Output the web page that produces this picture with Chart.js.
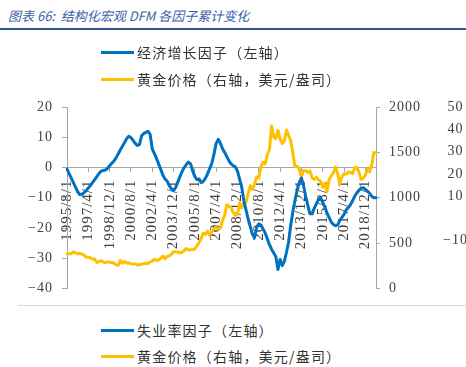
<!DOCTYPE html>
<html>
<head>
<meta charset="utf-8">
<script src="https://cdn.jsdelivr.net/npm/chart.js@4.4.1/dist/chart.umd.min.js"></script>
<style>
  html, body { margin: 0; padding: 0; width: 466px; height: 367px; overflow: hidden; background: #fff; }
  #title { position: absolute; left: 8px; top: 6px; font: italic 13px "Noto Sans CJK SC"; color: #3a62a6; white-space: nowrap; }
  #rule { position: absolute; left: 0; top: 28px; width: 466px; height: 2px; background: #2f5597; }
  #box { position: absolute; left: 0; top: 0; width: 480px; height: 312px; }
  #sep { position: absolute; left: 18px; top: 305px; width: 448px; height: 1px; background: #d9d9d9; }
  .leg { position: absolute; left: 101px; height: 20px; display: flex; align-items: center;
         font: 14px "Noto Sans CJK SC"; color: #333; letter-spacing: 1.2px; white-space: nowrap; }
  .leg i { display: inline-block; width: 33px; height: 3px; margin-right: 3px; }
</style>
</head>
<body>
<div id="title">图表 66:&nbsp; 结构化宏观 DFM 各因子累计变化</div>
<div id="rule"></div>
<div id="box"><canvas id="chart"></canvas></div>
<div id="sep"></div>
<div id="legendTop"></div>
<div id="legendBottom"></div>
<script>
// 双月数据, 1995/8 起
const startYear = 1995;
const startMonth = 8;
const stepMonths = 2;
const labelEvery = 10;

// 经济增长因子 (左轴)
const growthFactor = [
  -0.5, -2, -3.5, -5, -6.5, -8, -8.9, -8.8, -8.3, -7.6, -6.8, -5.9, -5, -4, -3, -2, -1.2, -1, -0.8, -0.3,
  0.6, 1.4, 2.1, 3.2, 4.5, 5.8, 7, 8.3, 9.5, 10.3, 9.9, 9, 8, 7.3, 7.6, 10.5, 11.2,
  11.6, 12, 11, 6.2, 4.6, 3, 1.2, -0.6, -2.5, -3.8, -4.5, -6, -7, -7.6, -6.6, -4.8, -3, -1.3, 0, 1, 1.8, 1.2,
  -1.2, -3, -4, -3.8, -5, -4.5, -3.5, -2, -0.3, 1.5, 4.5, 8, 9.3, 8, 6.2, 5, 3.6, 2.2, 1.2, 0.6, 0.2,
  -1.2, -3.8, -6.5, -11, -14, -17, -19.5, -22, -23.2, -19.8, -18.6, -19, -20.3, -21.6, -23.5, -25.5, -27,
  -28.2, -29.5, -33.7, -30.4, -32.4, -31, -28, -24.5, -19, -14.5, -10.8, -7.5, -5, -3.5, -6, -9.5, -12.5, -15.3,
  -15.3, -13.5, -12, -10.5, -10, -11.5, -13, -15, -16.5, -18, -18.8, -19.2, -19, -17.5, -16.5, -15.5, -14,
  -13.2, -12.3, -11, -9.5, -8.4, -7.5, -6.8, -6.7, -7.2, -7.8, -8.5, -9.5, -10, -10
];

// 黄金价格 (右轴, 美元/盎司)
const goldPrice = [
  383, 383, 387, 405, 393, 385, 387, 381, 369, 346, 344, 341, 324, 325, 289, 297, 308, 292, 284, 296,
  291, 287, 282, 261, 256, 311, 280, 300, 280, 285, 275, 270, 272, 262, 261, 270, 273, 279, 276, 295,
  302, 324, 310, 317, 333, 359, 328, 356, 360, 379, 407, 405, 404, 392, 400, 420, 442, 424, 429, 430,
  437, 470, 510, 555, 610, 596, 633, 586, 629, 665, 679, 655, 665, 754, 806, 922, 909, 890, 839, 807,
  816, 943, 890, 945, 949, 1043, 1134, 1095, 1149, 1232, 1215, 1342, 1391, 1374, 1474, 1529, 1790, 1666, 1652, 1742,
  1650, 1597, 1626, 1747, 1688, 1627, 1485, 1342, 1348, 1316, 1225, 1300, 1299, 1279, 1297, 1222, 1202, 1227, 1198, 1182,
  1117, 1159, 1068, 1200, 1242, 1276, 1341, 1266, 1152, 1234, 1266, 1260, 1283, 1280, 1264, 1331, 1335, 1282, 1202, 1215,
  1250, 1320, 1285, 1359, 1500, 1495
];

const seriesNames = ['经济增长因子（左轴）', '黄金价格（右轴，美元/盎司）'];
const seriesColors = ['#0070c0', '#ffc000'];
const bottomLegendLabels = ['失业率因子（左轴）', '黄金价格（右轴，美元/盎司）'];

const leftTicks = { min: -40, max: 20, step: 10 };
const rightTicks = { min: 0, max: 2000, step: 500 };
const outerTicks = [50, 40, 30, 20, 10, -10];

const categories = [];
for (let i = 0; i < growthFactor.length; i++) {
  const m = startMonth - 1 + i * stepMonths;
  categories.push(`${startYear + Math.floor(m / 12)}/${(m % 12) + 1}/1`);
}

const serif = '"Liberation Serif", "Times New Roman", serif';
const tickFont = { family: serif, size: 14 };
const dateFont = { family: serif, size: 15 };
const tickColor = '#404040';
const axisColor = '#a6a6a6';
const minus = v => String(v).replace('-', '\u2212');

const spacingPlugin = {
  id: 'tickSpacing',
  beforeUpdate(chart) { chart.ctx.letterSpacing = '1px'; },
  beforeDraw(chart) { chart.ctx.letterSpacing = '1px'; }
};

const chart = new Chart(document.getElementById('chart'), {
  type: 'line',
  data: {
    labels: categories,
    datasets: [
      { label: seriesNames[0], data: growthFactor, yAxisID: 'y', borderColor: seriesColors[0] },
      { label: seriesNames[1], data: goldPrice, yAxisID: 'y2', borderColor: seriesColors[1] }
    ]
  },
  options: {
    responsive: true,
    maintainAspectRatio: false,
    animation: false,
    layout: { padding: { top: 107, bottom: 12, left: 0, right: 0 } },
    elements: {
      point: { radius: 0 },
      line: { borderWidth: 3, tension: 0, borderJoinStyle: 'round', borderCapStyle: 'round' }
    },
    plugins: { legend: { display: false }, tooltip: { enabled: false } },
    scales: {
      x: {
        type: 'category',
        position: { y: 0 },
        offset: false,
        grid: { drawOnChartArea: false, drawTicks: true, tickLength: 4, tickColor: axisColor },
        border: { color: axisColor, width: 1 },
        ticks: { autoSkip: false, minRotation: 90, maxRotation: 90, padding: 8, font: dateFont, color: tickColor },
        afterBuildTicks: s => { s.ticks = s.ticks.filter(t => t.value % labelEvery === 0); }
      },
      y: {
        position: 'left',
        min: leftTicks.min, max: leftTicks.max,
        grid: { drawOnChartArea: false, tickLength: 5, tickColor: axisColor },
        border: { color: axisColor },
        ticks: { stepSize: leftTicks.step, padding: 9, font: tickFont, color: tickColor, callback: minus },
        afterFit: s => { s.width = 67; }
      },
      y2: {
        position: 'right',
        min: rightTicks.min, max: rightTicks.max,
        grid: { drawOnChartArea: false, tickLength: 4, tickColor: axisColor },
        border: { color: axisColor },
        ticks: { stepSize: rightTicks.step, padding: 9, font: tickFont, color: tickColor, callback: v => String(v) },
        afterFit: s => { s.width = 44; }
      },
      y3: {
        position: 'right',
        min: -31.5, max: 50,
        grid: { display: false },
        border: { display: false },
        ticks: { crossAlign: 'center', padding: 15, font: tickFont, color: tickColor, callback: minus },
        afterBuildTicks: s => { s.ticks = outerTicks.map(v => ({ value: v })); },
        afterFit: s => { s.width = 60; }
      }
    }
  },
  plugins: [spacingPlugin]
});

// 图例
function buildLegend(el, labels, colors, tops) {
  labels.forEach((txt, i) => {
    const row = document.createElement('div');
    row.className = 'leg';
    row.style.top = tops[i] + 'px';
    const sw = document.createElement('i');
    sw.style.background = colors[i];
    row.appendChild(sw);
    row.appendChild(document.createTextNode(txt));
    el.appendChild(row);
  });
}
buildLegend(document.getElementById('legendTop'),
  chart.data.datasets.map(d => d.label), chart.data.datasets.map(d => d.borderColor), [42, 69]);
buildLegend(document.getElementById('legendBottom'), bottomLegendLabels, seriesColors, [320, 346]);
</script>
</body>
</html>
